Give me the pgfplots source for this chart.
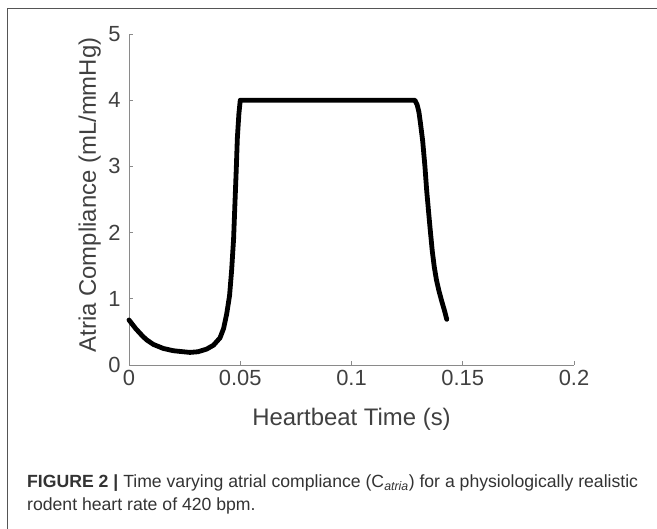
\documentclass[border=0pt]{standalone}
\usepackage{pgfplots}
\pgfplotsset{compat=1.18}
\usepackage{fontspec}
\setmainfont{Liberation Sans}
\definecolor{txt}{HTML}{404040}
\definecolor{axc}{HTML}{8A8A8A}
\definecolor{frame}{HTML}{555555}
\definecolor{cap}{HTML}{333333}
\begin{document}
\begin{tikzpicture}[x=1bp,y=1bp]
\path[use as bounding box] (0,0) rectangle (657,529);
\draw[frame, line width=1.5bp] (7.7,0) -- (7.7,520.7) -- (657,520.7);
\begin{axis}[
  at={(129bp,164bp)}, anchor=south west,
  scale only axis, width=445bp, height=331bp,
  xmin=0, xmax=0.2, ymin=0, ymax=5,
  axis lines=left,
  axis line style={-, axc, line width=0.9bp},
  tick style={axc, line width=0.9bp},
  tick align=inside,
  major tick length=4bp,
  xtick={0,0.05,0.1,0.15,0.2},
  xticklabels={0,0.05,0.1,0.15,0.2},
  ytick={0,1,2,3,4,5},
  yticklabels={0,1,2,3,4,5},
  ticklabel style={font=\fontsize{22}{25}\selectfont, text=txt},
  xticklabel style={yshift=-1.5bp},
  yticklabel style={xshift=-5bp},
  xlabel={Heartbeat Time (s)},
  ylabel={Atria Compliance (mL/mmHg)},
  label style={font=\fontsize{24}{27}\selectfont, text=txt},
  xlabel style={at={(axis description cs:0.5,-0.1834)}, anchor=base},
  ylabel style={at={(axis description cs:-0.0742,0.5136)}, anchor=base},
  clip=false,
]
\addplot[black, line width=4.8bp, line join=round, line cap=round] coordinates {
(0,0.68) (0.003,0.55) (0.006,0.44) (0.0079,0.38) (0.011,0.31) (0.0154,0.25)
(0.02,0.215) (0.0274,0.19) (0.031,0.2) (0.0349,0.24) (0.038,0.30) (0.0409,0.41)
(0.0425,0.55) (0.0439,0.77) (0.0452,1.05) (0.0461,1.42) (0.0470,1.90) (0.0476,2.43)
(0.0482,2.95) (0.0487,3.43) (0.0494,3.80) (0.0500,4.0)
(0.1285,4.0) (0.1295,3.93) (0.1303,3.82) (0.1310,3.65) (0.1320,3.38) (0.1330,3.0)
(0.1338,2.63) (0.1346,2.33) (0.1353,2.07) (0.1363,1.72) (0.1372,1.48) (0.1382,1.28)
(0.1393,1.12) (0.1405,0.97) (0.1418,0.82) (0.1428,0.69)
};
\end{axis}
\node[anchor=base west, inner sep=0, text=cap, font=\fontsize{17.7}{20}\selectfont] at (27,41.3)
  {\textbf{FIGURE 2 |} Time varying atrial compliance (C\textsubscript{\itshape atria}) for a physiologically realistic};
\node[anchor=base west, inner sep=0, text=cap, font=\fontsize{17.7}{20}\selectfont] at (27,18)
  {rodent heart rate of 420 bpm.};
\end{tikzpicture}
\end{document}
